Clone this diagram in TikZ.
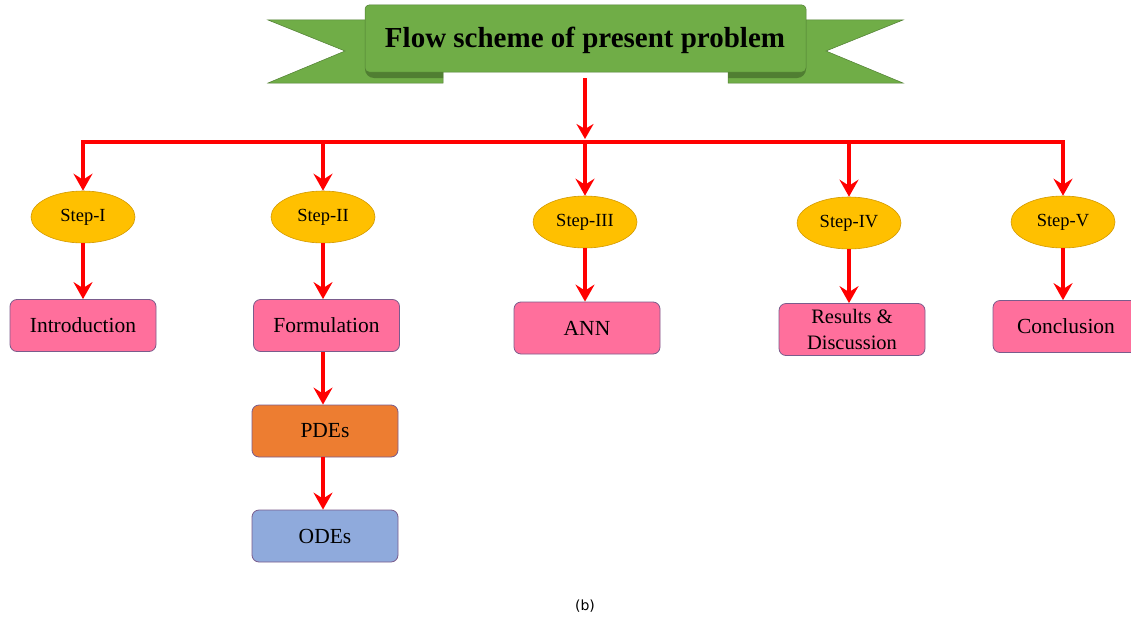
\documentclass[tikz,border=0pt]{standalone}
\usepackage{fontspec}
\setmainfont{Liberation Serif}
\newfontfamily\labelsans{DejaVu Sans}
\usetikzlibrary{arrows.meta,shapes.geometric}
\definecolor{bgreen}{HTML}{70AD47}
\definecolor{bgreendk}{HTML}{507E32}
\definecolor{stepfill}{HTML}{FFC000}
\definecolor{stepline}{HTML}{D39A00}
\definecolor{pinkfill}{HTML}{FF6F9C}
\definecolor{boxline}{HTML}{7A5C8C}
\definecolor{pdefill}{HTML}{ED7D31}
\definecolor{odefill}{HTML}{8FAADC}
\definecolor{arrowred}{HTML}{FF0000}
\tikzset{
  flow/.style={draw=arrowred, line width=3.2pt, -{Stealth[length=17pt,width=19pt,inset=6pt]}},
  flowline/.style={draw=arrowred, line width=3.2pt},
  stepnode/.style={ellipse, draw=stepline, fill=stepfill, line width=0.6pt, minimum width=104pt, minimum height=52pt, inner sep=0pt, font=\fontsize{18.5}{21}\selectfont},
  taskbox/.style={rectangle, rounded corners=7pt, draw=boxline, line width=0.8pt, minimum width=146pt, minimum height=52pt, inner sep=0pt, align=center, font=\fontsize{21.5}{25}\selectfont},
}
\begin{document}
\begin{tikzpicture}[x=1pt,y=-1pt]
\useasboundingbox[fill=white] (0,0) rectangle (1131,618);
% banner tails
\fill[bgreen, draw=bgreendk, line width=0.5pt] (268,20) -- (443,20) -- (443,83) -- (268,83) -- (345,51) -- cycle;
\fill[bgreen, draw=bgreendk, line width=0.5pt] (903,20) -- (728,20) -- (728,83) -- (903,83) -- (826,51) -- cycle;
% folds
\fill[bgreendk] (365,68) -- (443,68) -- (443,78) -- (374,78) arc[start angle=270, end angle=180, radius=9pt] -- cycle;
\fill[bgreendk] (806,68) -- (728,68) -- (728,78) -- (797,78) arc[start angle=270, end angle=360, radius=9pt] -- cycle;
% main banner
\draw[fill=bgreen, draw=bgreendk, line width=0.5pt, rounded corners=4pt] (365,5) rectangle (806,72);
\node[font=\fontsize{29}{32}\selectfont\bfseries] (title) at (585,40) {Flow scheme of present problem};
\coordinate (bannerbot) at (585,78);
\coordinate (arrowtip) at (585,139);
\coordinate (busc) at (585,142);
\coordinate (busl) at (83,142);
\coordinate (busr) at (1063,142);

% steps
\node[stepnode] (s1) at (83,217) {Step-I};
\node[stepnode] (s2) at (323,217) {Step-II};
\node[stepnode] (s3) at (585,222) {Step-III};
\node[stepnode] (s4) at (849,223) {Step-IV};
\node[stepnode] (s5) at (1063,222) {Step-V};

% boxes
\node[taskbox, fill=pinkfill] (intro) at (83,325.5) {Introduction};
\node[taskbox, fill=pinkfill] (form) at (326.5,325.5) {Formulation};
\node[taskbox, fill=pinkfill] (ann) at (587,328) {ANN};
\node[taskbox, fill=pinkfill, font=\fontsize{20.5}{26}\selectfont] (res) at (852,329.5) {Results \&\\Discussion};
\node[taskbox, fill=pinkfill] (conc) at (1066,326.5) {Conclusion};
\node[taskbox, fill=pdefill] (pde) at (325,431) {PDEs};
\node[taskbox, fill=odefill] (ode) at (325,536) {ODEs};

% connectors
\draw[flow, -{Stealth[length=15pt,width=17pt,inset=5pt]}] (bannerbot) -- (arrowtip);
\draw[flowline] ([xshift=-1.6pt]busl) -- ([xshift=1.6pt]busr);
\draw[flow] (busl) -- (s1.north);
\draw[flow] (busl -| s2.north) -- (s2.north);
\draw[flow] (busc) -- (s3.north);
\draw[flow] (busl -| s4.north) -- (s4.north);
\draw[flow] (busr) -- (s5.north);
\draw[flow] (s1.south) -- (intro.north -| s1.south);
\draw[flow] (s2.south) -- (form.north -| s2.south);
\draw[flow] (s3.south) -- (ann.north -| s3.south);
\draw[flow] (s4.south) -- (res.north -| s4.south);
\draw[flow] (s5.south) -- (conc.north -| s5.south);
\draw[flow] (form.south -| s2.south) -- (pde.north -| s2.south);
\draw[flow] (pde.south -| s2.south) -- (ode.north -| s2.south);

\node[font=\labelsans\fontsize{14}{16}\selectfont] (cap) at (585,606) {(b)};
\end{tikzpicture}
\end{document}
